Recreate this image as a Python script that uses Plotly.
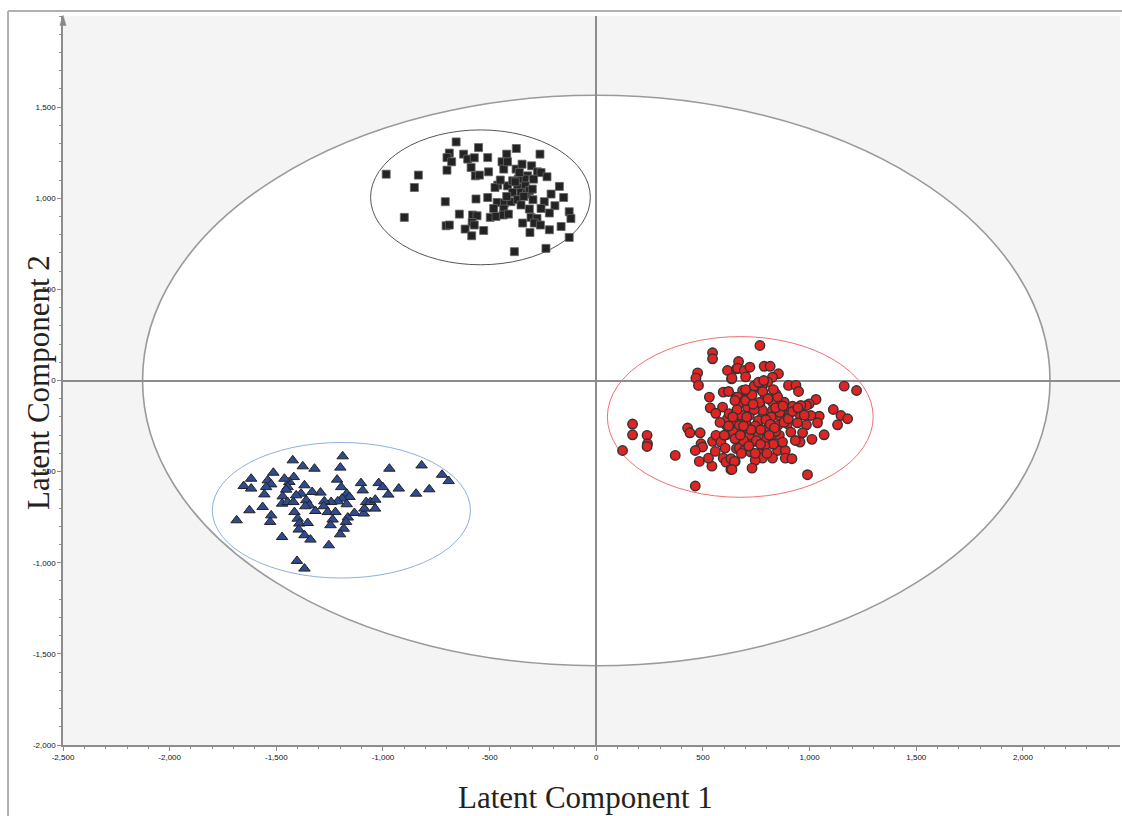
import plotly.graph_objects as go

# ---------------- data ----------------
black_x = [-657, -552, -375, -264, -689, -700, -622, -603, -572, -509, -420, -442, -678, -700, -587,
           -567, -548, -505, -434, -416, -376, -348, -303, -276, -259, -231, -322, -337, -366, -294,
           -985, -834, -853, -462, -475, -416, -369, -333, -392, -353, -327, -173, -212, -153, -297,
           -244, -509, -465, -431, -400, -369, -353, -564, -708, -481, -434, -314, -259, -194, -220,
           -127, -119, -642, -580, -559, -497, -470, -436, -412, -306, -278, -900, -582, -572, -345,
           -291, -262, -165, -220, -704, -689, -615, -528, -584, -311, -127, -384, -236, -392, -361,
           -314, -340, -300, -420, -380, -450]
black_y = [1309, 1278, 1273, 1242, 1248, 1223, 1242, 1215, 1222, 1223, 1242, 1200, 1200, 1154, 1169,
           1123, 1127, 1145, 1160, 1200, 1160, 1187, 1178, 1145, 1141, 1118, 1123, 1105, 1105, 1105,
           1132, 1127, 1059, 1072, 1059, 1068, 1059, 1068, 1032, 1032, 1023, 1065, 1023, 1004, 992,
           981, 1004, 977, 974, 981, 992, 963, 996, 981, 944, 941, 941, 944, 959, 919,
           926, 889, 913, 908, 904, 895, 900, 908, 913, 895, 889, 895, 867, 853, 864,
           864, 853, 845, 827, 849, 853, 831, 823, 794, 812, 785, 707, 725, 1096, 1141,
           1041, 1010, 1050, 1010, 1090, 1100]

red_x = [545, 545, 475, 467, 479, 615, 634, 657, 595, 530, 534, 592, 170, 170, 238, 240, 238, 123,
         370, 428, 439, 487, 491, 498, 464, 483, 542, 464, 526, 545, 561, 558, 584, 604, 608, 608,
         615, 623, 636, 595, 608, 631, 631, 651, 657, 647, 655,
         767, 667, 662, 694, 720, 787, 815, 854, 826, 636, 803, 779, 756, 736, 704, 686, 662, 901,
         936, 948, 842, 792, 1162, 1220, 1030, 998, 985, 959, 920, 881, 858, 826, 767, 732, 1111,
         1147, 1178, 1045, 1006, 955, 904, 858, 811, 772, 717, 655, 670, 1131, 1037, 985, 943, 896,
         850, 811, 756, 709, 642, 1068, 1011, 955, 933, 967, 858, 819, 779, 745, 701, 670, 694,
         725, 779, 850, 886, 826, 886, 917, 779, 745, 730, 647, 636, 990, 686, 826, 779, 709, 873,
         717, 756, 912,
         740, 760, 800, 820, 700, 680, 790, 840, 870, 720, 760, 830, 690, 650, 780, 740, 700, 730,
         880, 900,
         745, 770, 795, 815, 835, 860, 725, 705, 690, 675, 750, 790, 810, 840, 765, 735, 715, 805,
         850, 875, 920, 945, 975, 700, 660, 640, 620, 600, 580, 560, 760, 785, 830, 700, 650, 620,
         800, 745, 770, 680]
red_y = [152, 119, 42, 13, -27, 55, 9, 64, -64, -91, -150, -146, -239, -298, -301, -347, -362, -384,
         -411, -261, -287, -287, -347, -365, -384, -444, -470, -579, -426, -334, -301, -389, -338, -371,
         -298, -243, -210, -182, -274, -426, -448, -429, -488, -444, -374, -228, -91,
         192, 104, 67, 55, 73, 78, 78, 37, 18, 13, -9, -24, -37, -42, -64, -55, -91, -27,
         -27, -60, -73, -91, -31, -55, -104, -128, -137, -137, -141, -119, -137, -119, -137, -128, -159,
         -192, -210, -196, -192, -188, -182, -192, -207, -210, -192, -182, -247, -243, -232, -243, -232, -237,
         -247, -256, -247, -256, -283, -298, -323, -338, -329, -287, -301, -334, -319, -334, -301, -371, -384,
         -393, -374, -384, -384, -426, -426, -429, -426, -438, -481, -444, -488, -517, -119, -164, -164, -146, -338,
         -338, -283, -283,
         -160, -220, -270, -200, -230, -190, -320, -280, -160, -300, -300, -350, -330, -320, -60, -30, -110, -80,
         -230, -210,
         -250, -270, -215, -240, -260, -175, -270, -200, -250, -300, -330, -360, -300, -150, -120, -130, -360, -100,
         -90, -140, -170, -150, -190, -50, -160, -200, -250, -300, -230, -180, -10, 0, -50, 20, -110, -60,
         -400, -400, -350, -400]

blue_x = [-1423, -1376, -1321, -1189, -1200, -970, -819, -723, -692, -783, -845, -926, -975, -1020, -1001,
          -1103, -1095, -1215, -1196, -1170, -1157, -1192, -1212, -1243, -1275, -1293, -1332, -1368, -1384,
          -1360, -1345, -1364, -1418, -1439, -1447, -1454, -1470, -1473, -1447, -1420, -1514, -1540, -1524,
          -1548, -1556, -1618, -1653, -1618, -1564, -1626, -1686, -1524, -1529, -1473, -1415, -1400, -1392,
          -1353, -1395, -1368, -1340, -1317, -1278, -1259, -1223, -1236, -1246, -1254, -1170, -1165, -1173,
          -1184, -1201, -1134, -1090, -1087, -1079, -1059, -1036, -1037, -1403, -1368, -1407, -1462]
blue_y = [-438, -471, -484, -416, -478, -484, -466, -517, -552, -597, -621, -593, -626, -563, -585,
          -563, -603, -544, -585, -621, -639, -648, -663, -667, -663, -615, -612, -575, -621,
          -657, -685, -690, -530, -557, -585, -599, -636, -676, -667, -667, -506, -548, -570,
          -585, -625, -539, -579, -593, -694, -712, -767, -740, -776, -859, -722, -758, -785,
          -782, -818, -849, -873, -716, -690, -722, -722, -763, -794, -904, -679, -752, -776,
          -813, -844, -727, -730, -703, -667, -667, -654, -703, -990, -1032, -630, -539]

# confidence ellipses: centre x, centre y, half width, half height
ell_names = ["all", "black", "red", "blue"]
ell_cx = [0, -543, 675, -1195]
ell_cy = [0, 1005, -200, -712]
ell_rx = [2127, 515, 623, 605]
ell_ry = [1565, 370, 441, 372]
ell_line = ["#9a9a9a", "#555555", "#f07070", "#8fb0dc"]
ell_fill = ["white", "rgba(0,0,0,0)", "rgba(0,0,0,0)", "rgba(0,0,0,0)"]
ell_width = [1.6, 1, 1, 1]

x_ticks = [-2500, -2000, -1500, -1000, -500, 0, 500, 1000, 1500, 2000]
x_tick_text = ["-2,500", "-2,000", "-1,500", "-1,000", "-500", "0", "500", "1,000", "1,500", "2,000"]
y_ticks = [-2000, -1500, -1000, -500, 0, 500, 1000, 1500]
y_tick_text = ["-2,000", "-1,500", "-1,000", "-500", "0", "500", "1,000", "1,500"]

# ---------------- figure ----------------
fig = go.Figure()

fig.add_trace(go.Scatter(x=red_x, y=red_y, mode="markers",
                         marker=dict(symbol="circle", size=9.5, color="#e02424",
                                     line=dict(color="#333333", width=1.4)),
                         showlegend=False))
fig.add_trace(go.Scatter(x=black_x, y=black_y, mode="markers",
                         marker=dict(symbol="square", size=8, color="#232323",
                                     line=dict(color="#666666", width=0.8)),
                         showlegend=False))
fig.add_trace(go.Scatter(x=blue_x, y=blue_y, mode="markers",
                         marker=dict(symbol="triangle-up", size=10, color="#2f4a8e",
                                     line=dict(color="#222222", width=1)),
                         showlegend=False))

shapes = []
for i in range(len(ell_names)):
    shapes.append(dict(type="circle", xref="x", yref="y", layer="below",
                       x0=ell_cx[i] - ell_rx[i], x1=ell_cx[i] + ell_rx[i],
                       y0=ell_cy[i] - ell_ry[i], y1=ell_cy[i] + ell_ry[i],
                       line=dict(color=ell_line[i], width=ell_width[i]),
                       fillcolor=ell_fill[i]))

# outer frame (left and top edges) and y-axis arrow head
shapes.append(dict(type="line", xref="paper", yref="paper", x0=-0.052, x1=-0.052,
                   y0=-0.12, y1=1.0069, line=dict(color="#b0b0b0", width=2)))
shapes.append(dict(type="line", xref="paper", yref="paper", x0=-0.052, x1=1.01,
                   y0=1.0069, y1=1.0069, line=dict(color="#b0b0b0", width=2)))
shapes.append(dict(type="path", xref="paper", yref="paper",
                   path="M -0.003,0.987 L 0,1.001 L 0.003,0.987 Z",
                   fillcolor="#888888", line=dict(color="#888888", width=0.5)))

fig.update_layout(
    width=1122, height=816,
    margin=dict(l=63, r=2, t=16, b=71),
    paper_bgcolor="white",
    plot_bgcolor="#f4f4f4",
    shapes=shapes,
    font=dict(family="Liberation Sans, Arial, sans-serif", size=8, color="#111111"),
    annotations=[
        dict(text="Latent Component 1", xref="paper", yref="paper",
             x=(585 - 63) / 1057, y=(745 - 797) / 729, xanchor="center", yanchor="middle",
             showarrow=False,
             font=dict(family="Liberation Serif, Times New Roman, serif", size=31, color="#222222")),
        dict(text="Latent Component 2", xref="paper", yref="paper",
             x=(38 - 63) / 1057, y=(745 - 383) / 729, xanchor="center", yanchor="middle",
             showarrow=False, textangle=-90,
             font=dict(family="Liberation Serif, Times New Roman, serif", size=31, color="#222222")),
    ],
)

fig.update_xaxes(range=[-2500, 2455], tickvals=x_ticks, ticktext=x_tick_text,
                 showgrid=False, zeroline=True, zerolinecolor="#8c8c8c", zerolinewidth=1.5,
                 showline=True, linecolor="#8c8c8c", linewidth=1.5,
                 ticks="outside", ticklen=4, tickcolor="#8c8c8c", tickwidth=1,
                 minor=dict(dtick=100, ticks="outside", ticklen=2.5, tickcolor="#8c8c8c", showgrid=False),
                 tickfont=dict(size=8), fixedrange=True)
fig.update_yaxes(range=[-2000, 2000], tickvals=y_ticks, ticktext=y_tick_text,
                 showgrid=False, zeroline=True, zerolinecolor="#8c8c8c", zerolinewidth=1.5,
                 showline=True, linecolor="#8c8c8c", linewidth=1.5,
                 ticks="outside", ticklen=4, tickcolor="#8c8c8c", tickwidth=1,
                 minor=dict(dtick=100, ticks="outside", ticklen=2.5, tickcolor="#8c8c8c", showgrid=False),
                 tickfont=dict(size=8), fixedrange=True)

fig.write_html("out.html", config={"displayModeBar": False},
               post_script="document.body.style.margin='0';document.body.style.overflow='hidden';")
